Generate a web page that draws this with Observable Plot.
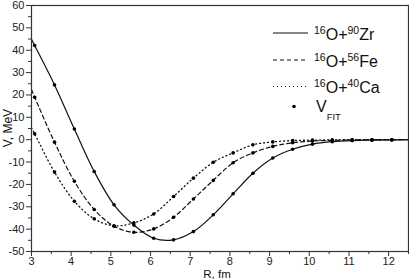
<!DOCTYPE html>
<html><head><meta charset="utf-8">
<script src="https://cdn.jsdelivr.net/npm/d3@7"></script>
<script src="https://cdn.jsdelivr.net/npm/@observablehq/plot@0.6"></script>
<style>body{margin:0;background:#fff} svg{display:block}</style>
</head><body><div id="chart"></div>
<script>
// ---- data ----
const R_FIT = [3.08, 3.58, 4.08, 4.58, 5.08, 5.58, 6.08, 6.58, 7.08, 7.58, 8.08, 8.58, 9.08, 9.58, 10.08, 10.58, 11.08, 11.58, 12.08];
const V_ZR  = [42.1, 24.5, 4.8, -14.2, -29.1, -38.2, -44.1, -44.8, -41.1, -33.6, -24.2, -15.0, -8.2, -4.3, -2.0, -0.9, -0.4, -0.2, -0.1];
const V_FE  = [19.0, -1.1, -18.6, -31.2, -38.7, -41.4, -39.9, -34.7, -26.5, -18.2, -10.3, -5.9, -3.0, -1.4, -0.6, -0.3, -0.1, 0, 0];
const V_CA  = [2.6, -14.5, -27.5, -35.4, -38.5, -37.2, -33.2, -25.4, -17.2, -10.1, -5.9, -2.3, -1.0, -0.4, -0.2, -0.1, 0, 0, 0];
// curve end points (R = 3.0 and R = 12.5)
const R_ENDS = [3.0, 12.5];
const ZR_ENDS = [44.9, 0];
const FE_ENDS = [22.4, 0];
const CA_ENDS = [5.3, 0];
const X_TICKS = [3, 4, 5, 6, 7, 8, 9, 10, 11, 12];
const X_MINOR = [3.5, 4.5, 5.5, 6.5, 7.5, 8.5, 9.5, 10.5, 11.5, 12.5];
const Y_TICKS = [-50, -40, -30, -20, -10, 0, 10, 20, 30, 40, 50, 60];
const Y_MINOR = [-45, -35, -25, -15, -5, 5, 15, 25, 35, 45, 55];
const SERIES = ["Zr", "Fe", "Ca"];
const LEGEND = [
  {pre: "16", a: "O+", mid: "90", b: "Zr", dash: null},
  {pre: "16", a: "O+", mid: "56", b: "Fe", dash: "4,3"},
  {pre: "16", a: "O+", mid: "40", b: "Ca", dash: "1,3"}
];
const FIT_LABEL = ["V", "FIT"];
const X_TITLE = "R, fm";
const Y_TITLE = "V, MeV";

// ---- build tables ----
function curve(vals, ends) {
  const pts = [{R: R_ENDS[0], V: ends[0]}];
  R_FIT.forEach((r, i) => pts.push({R: r, V: vals[i]}));
  pts.push({R: R_ENDS[1], V: ends[1]});
  return pts;
}
const lineZr = curve(V_ZR, ZR_ENDS);
const lineFe = curve(V_FE, FE_ENDS);
const lineCa = curve(V_CA, CA_ENDS);
const dots = [];
[V_ZR, V_FE, V_CA].forEach((vals, k) => R_FIT.forEach((r, i) => dots.push({R: r, V: vals[i], s: SERIES[k]})));

const FONT = "'Liberation Sans', Arial, sans-serif";
const fmt = d => String(d);

const plot = Plot.plot({
  width: 409, height: 279,
  marginLeft: 31, marginRight: 1, marginTop: 5, marginBottom: 28,
  style: {fontFamily: FONT, fontSize: "11px", color: "#222", background: "#fff"},
  x: {domain: [3, 12.5]},
  y: {domain: [-50, 60]},
  marks: [
    Plot.line(lineZr, {x: "R", y: "V", curve: "catmull-rom", stroke: "#111", strokeWidth: 1.2}),
    Plot.line(lineFe, {x: "R", y: "V", curve: "catmull-rom", stroke: "#111", strokeWidth: 1.2, strokeDasharray: "4,3"}),
    Plot.line(lineCa, {x: "R", y: "V", curve: "catmull-rom", stroke: "#111", strokeWidth: 1.3, strokeDasharray: "1,3", strokeLinecap: "round"}),
    Plot.dot(dots, {x: "R", y: "V", r: 1.8, fill: "#000", stroke: null}),
    Plot.axisX({ticks: X_TICKS, tickSize: 5, tickPadding: 1, tickFormat: fmt, fontSize: 11, label: null, stroke: "#333"}),
    Plot.axisX({ticks: X_MINOR, tickSize: 3, tickFormat: () => "", label: null, stroke: "#333"}),
    Plot.axisY({ticks: Y_TICKS, tickSize: 5, tickPadding: 2, tickFormat: fmt, fontSize: 11, label: null, stroke: "#333"}),
    Plot.axisY({ticks: Y_MINOR, tickSize: 3, tickFormat: () => "", label: null, stroke: "#333"}),
    Plot.frame({stroke: "#333", strokeWidth: 1.2})
  ]
});
document.getElementById("chart").appendChild(plot);

// ---- titles & legend ----
const svg = d3.select(plot);
svg.append("text").attr("x", 217).attr("y", 278).attr("text-anchor", "middle")
  .attr("font-family", FONT).attr("font-size", 11.5).attr("fill", "#111").text(X_TITLE);
svg.append("text").attr("transform", "translate(12,128) rotate(-90)").attr("text-anchor", "middle")
  .attr("font-family", FONT).attr("font-size", 12).attr("fill", "#111").text(Y_TITLE);

const lg = svg.append("g").attr("font-family", FONT).attr("fill", "#111").attr("text-anchor", "start");
const rowY = [33, 60, 86.5];
LEGEND.forEach((e, i) => {
  const y = rowY[i];
  lg.append("line").attr("x1", 273).attr("x2", 308).attr("y1", y).attr("y2", y)
    .attr("stroke", "#111").attr("stroke-width", 1.2)
    .attr("stroke-dasharray", e.dash);
  const t = lg.append("text").attr("x", 314).attr("y", y + 6.5).attr("font-size", 16).attr("text-anchor", "start");
  t.append("tspan").attr("font-size", 10.5).attr("dy", -6).text(e.pre);
  t.append("tspan").attr("dy", 6).text(e.a);
  t.append("tspan").attr("font-size", 10.5).attr("dy", -6).text(e.mid);
  t.append("tspan").attr("dy", 6).text(e.b);
});
lg.append("circle").attr("cx", 294).attr("cy", 106.5).attr("r", 1.8).attr("fill", "#000");
const tf = lg.append("text").attr("x", 316).attr("y", 111.5).attr("font-size", 16).attr("text-anchor", "start");
tf.append("tspan").text(FIT_LABEL[0]);
tf.append("tspan").attr("font-size", 9.5).attr("dy", 8).text(FIT_LABEL[1]);
</script>
</body></html>
